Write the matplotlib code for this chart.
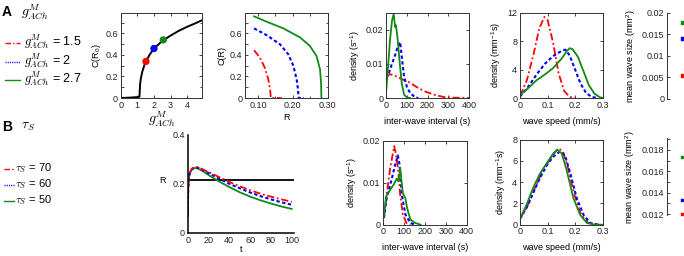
import numpy as np
import matplotlib
matplotlib.use('Agg')
import matplotlib.pyplot as plt
from matplotlib.ticker import FormatStrFormatter, MultipleLocator
from matplotlib.lines import Line2D

plt.rcParams['font.family'] = ['Liberation Sans', 'DejaVu Sans']
plt.rcParams['mathtext.fontset'] = 'cm'
plt.rcParams['font.size'] = 6.5

RED = '#ff0000'
BLUE = '#0000ff'
GREEN = '#138a13'

# ---------------- data: row A ----------------
g_ach = [0, 0.5, 1.0, 1.13, 1.15, 1.17, 1.2, 1.25, 1.3, 1.4, 1.5, 1.75, 2.0, 2.5, 3.0, 3.5, 4.0, 4.5, 4.92]
c_r0 = [0, 0.003, 0.008, 0.012, 0.08, 0.13, 0.17, 0.21, 0.245, 0.295, 0.335, 0.405, 0.46, 0.53, 0.58, 0.625, 0.662, 0.695, 0.725]
g_pts = [1.52, 2.0, 2.56]
c_pts = [0.34, 0.46, 0.54]

r_green = [0.089, 0.125, 0.173, 0.221, 0.249, 0.268, 0.278, 0.281, 0.282]
cr_green = [0.759, 0.709, 0.647, 0.5625, 0.484, 0.39, 0.266, 0.14, 0.0]
r_blue = [0.089, 0.125, 0.163, 0.187, 0.202, 0.211, 0.215, 0.217, 0.232]
cr_blue = [0.647, 0.584, 0.5, 0.406, 0.297, 0.172, 0.078, 0.0, 0.0]
r_red = [0.089, 0.106, 0.12, 0.13, 0.135, 0.137, 0.168]
cr_red = [0.444, 0.375, 0.28, 0.17, 0.078, 0.0, 0.0]

iwi_g_x = [0, 10, 19, 29, 37, 44, 48, 55, 65, 76, 87, 100, 116]
iwi_g_y = [0.0014, 0.0092, 0.0169, 0.0227, 0.0246, 0.0208, 0.0213, 0.0179, 0.0111, 0.0043, 0.001, 0.0002, 0.0]
iwi_b_x = [0, 11, 27, 44, 60, 68, 76, 87, 100, 116, 140, 156]
iwi_b_y = [0.0058, 0.0068, 0.0097, 0.0126, 0.0155, 0.0164, 0.0121, 0.0063, 0.0034, 0.0015, 0.0002, 0.0]
iwi_r_x = [0, 19, 52, 84, 116, 148, 189, 229, 277, 326, 400]
iwi_r_y = [0.0063, 0.007, 0.0063, 0.0053, 0.0045, 0.0032, 0.0019, 0.001, 0.0003, 0.0001, 0.0]

sp_g_x = [0, 0.03, 0.06, 0.09, 0.12, 0.15, 0.17, 0.18, 0.19, 0.21, 0.23, 0.25, 0.27, 0.29, 0.3]
sp_g_y = [0.4, 1.4, 2.5, 3.3, 4.2, 5.5, 6.6, 7.0, 6.9, 5.8, 3.8, 1.8, 0.6, 0.1, 0.0]
sp_b_x = [0, 0.03, 0.06, 0.09, 0.12, 0.15, 0.165, 0.18, 0.2, 0.22, 0.24, 0.26, 0.28]
sp_b_y = [0.2, 1.6, 3.3, 4.8, 5.9, 6.6, 6.8, 6.0, 4.0, 2.0, 0.7, 0.15, 0.0]
sp_r_x = [0, 0.025, 0.05, 0.07, 0.088, 0.1, 0.12, 0.14, 0.16, 0.18, 0.2]
sp_r_y = [0.3, 2.5, 6.3, 9.8, 11.4, 11.0, 7.8, 3.5, 1.0, 0.15, 0.0]

size_a = [0.00544, 0.01405, 0.0178]   # red, blue, green

# ---------------- data: row B ----------------
t_vals = [0, 0.5, 1, 2, 4, 7, 10, 15, 20, 30, 40, 50, 60, 70, 80, 90, 100]
R_red = [0.068, 0.18, 0.22, 0.245, 0.262, 0.27, 0.268, 0.258, 0.248, 0.228, 0.208, 0.19, 0.174, 0.16, 0.148, 0.137, 0.127]
R_blue = [0.068, 0.18, 0.22, 0.244, 0.26, 0.268, 0.265, 0.255, 0.244, 0.222, 0.2, 0.182, 0.165, 0.15, 0.137, 0.125, 0.115]
R_green = [0.068, 0.18, 0.22, 0.243, 0.258, 0.265, 0.262, 0.25, 0.236, 0.21, 0.187, 0.166, 0.148, 0.133, 0.12, 0.108, 0.098]
R_thresh = 0.216

iwiB_r_x = [3, 16, 33, 46, 52, 60, 70, 81, 94, 111, 130]
iwiB_r_y = [0.0016, 0.0071, 0.0135, 0.017, 0.0187, 0.017, 0.0135, 0.0071, 0.0024, 0.0004, 0.0]
iwiB_b_x = [3, 16, 41, 57, 70, 78, 89, 106, 130, 154]
iwiB_b_y = [0.0016, 0.0063, 0.011, 0.0143, 0.0165, 0.0143, 0.0071, 0.0024, 0.0004, 0.0]
iwiB_g_x = [3, 13, 33, 49, 65, 73, 81, 86, 94, 106, 114, 130, 154, 179]
iwiB_g_y = [0.002, 0.0067, 0.0083, 0.0095, 0.011, 0.0103, 0.0135, 0.011, 0.0075, 0.0063, 0.004, 0.0012, 0.0004, 0.0]

spB_g_x = [0, 0.024, 0.048, 0.072, 0.097, 0.12, 0.135, 0.151, 0.169, 0.193, 0.218, 0.242, 0.27, 0.3]
spB_g_y = [0.57, 1.9, 3.5, 4.8, 5.8, 6.7, 7.05, 6.7, 5.1, 2.5, 0.9, 0.16, 0.0, 0.0]
spB_b_x = [0, 0.024, 0.048, 0.072, 0.097, 0.12, 0.145, 0.163, 0.181, 0.205, 0.23, 0.254, 0.285]
spB_b_y = [0.57, 1.6, 3.0, 4.4, 5.6, 6.4, 6.9, 6.5, 4.9, 2.5, 0.9, 0.16, 0.0]
spB_r_x = [0, 0.024, 0.048, 0.072, 0.097, 0.12, 0.139, 0.155, 0.172, 0.196, 0.22, 0.245, 0.275]
spB_r_y = [0.57, 1.6, 3.1, 4.5, 5.7, 6.6, 7.2, 6.9, 5.5, 2.9, 1.0, 0.2, 0.0]

size_b = [0.012, 0.01331, 0.01734]   # red, blue, green

legend_a = ['1.5', '2', '2.7']
legend_b = ['70', '60', '50']

# ---------------- styles ----------------
RED_LS = (0, (4, 1.5, 1, 1.5))
BLUE_LS = (0, (1.6, 1.2))
LW = 1.3

fig = plt.figure(figsize=(6.84, 2.56), dpi=100)


def px_axes(x0, x1, y0, y1):
    return fig.add_axes([x0 / 684, 1 - y1 / 256, (x1 - x0) / 684, (y1 - y0) / 256])


def style_box(ax):
    for s in ax.spines.values():
        s.set_linewidth(0.7)
        s.set_color('#333333')
    ax.tick_params(direction='in', length=2.5, width=0.6, pad=2, top=True, right=True,
                   labelsize=6.5, colors='#222222')
    ax.tick_params(which='minor', direction='in', length=1.8, width=0.5, top=True, right=True)


# ---- A1 ----
ax = px_axes(120.7, 202.5, 13, 98)
ax.plot(g_ach, c_r0, color='black', lw=1.4)
ax.scatter(g_pts, c_pts, color=[RED, BLUE, GREEN], s=18, zorder=3)
ax.set_xlim(0, 4.92)
ax.set_ylim(0, 0.79)
ax.set_xticks([0, 1, 2, 3, 4])
ax.set_yticks([0, 0.2, 0.4, 0.6])
ax.yaxis.set_minor_locator(MultipleLocator(0.1))
ax.yaxis.set_major_formatter(FormatStrFormatter('%g'))
ax.set_ylabel(r'C(R$_\mathregular{0}$)', fontsize=6.5, labelpad=2)
ax.set_xlabel(r'$g^M_{ACh}$', fontsize=10, labelpad=0)
style_box(ax)

# ---- A2 ----
ax = px_axes(245, 327.7, 13, 98)
ax.plot(r_green, cr_green, color=GREEN, lw=LW)
ax.plot(r_blue, cr_blue, color=BLUE, lw=LW + 0.2, linestyle=BLUE_LS)
ax.plot(r_red, cr_red, color=RED, lw=LW, linestyle=RED_LS)
ax.set_xlim(0.063, 0.30)
ax.set_ylim(0, 0.79)
ax.set_xticks([0.10, 0.20, 0.30])
ax.xaxis.set_major_formatter(FormatStrFormatter('%.2f'))
ax.xaxis.set_minor_locator(MultipleLocator(0.05))
ax.set_yticks([0, 0.2, 0.4, 0.6])
ax.yaxis.set_minor_locator(MultipleLocator(0.1))
ax.yaxis.set_major_formatter(FormatStrFormatter('%g'))
ax.set_ylabel('C(R)', fontsize=6.5, labelpad=2)
ax.set_xlabel('R', fontsize=6.5, labelpad=2)
style_box(ax)

# ---- A3 ----
ax = px_axes(386, 469, 12.7, 98)
ax.plot(iwi_r_x, iwi_r_y, color=RED, lw=LW, linestyle=RED_LS)
ax.plot(iwi_b_x, iwi_b_y, color=BLUE, lw=LW + 0.2, linestyle=BLUE_LS)
ax.plot(iwi_g_x, iwi_g_y, color=GREEN, lw=LW)
ax.set_xlim(0, 400)
ax.set_ylim(0, 0.025)
ax.set_xticks([0, 100, 200, 300, 400])
ax.set_yticks([0, 0.01, 0.02])
ax.yaxis.set_major_formatter(FormatStrFormatter('%g'))
ax.set_ylabel(r'density (s$^{\mathregular{-1}}$)', fontsize=6.5, labelpad=3)
ax.set_xlabel('inter-wave interval (s)', fontsize=6.5, labelpad=5)
style_box(ax)

# ---- A4 ----
ax = px_axes(520, 602.7, 12.7, 98)
ax.plot(sp_r_x, sp_r_y, color=RED, lw=LW, linestyle=RED_LS)
ax.plot(sp_b_x, sp_b_y, color=BLUE, lw=LW + 0.2, linestyle=BLUE_LS)
ax.plot(sp_g_x, sp_g_y, color=GREEN, lw=LW)
ax.set_xlim(0, 0.3)
ax.set_ylim(0, 12)
ax.set_xticks([0, 0.1, 0.2, 0.3])
ax.xaxis.set_major_formatter(FormatStrFormatter('%g'))
ax.set_yticks([0, 4, 8, 12])
ax.set_ylabel(r'density (mm$^{\mathregular{-1}}$s)', fontsize=6.5, labelpad=3)
ax.set_xlabel('wave speed (mm/s)', fontsize=6.5, labelpad=5)
style_box(ax)

# ---- A5 ----
ax = px_axes(667.3, 727.3, 12.7, 98.7)
ax.scatter([1, 1, 1], size_a, color=[RED, BLUE, GREEN], s=4, marker='s', zorder=3)
ax.set_xlim(0, 4)
ax.set_ylim(0, 0.02)
ax.set_yticks([0, 0.005, 0.01, 0.015, 0.02])
ax.yaxis.set_major_formatter(FormatStrFormatter('%g'))
ax.set_xticks([])
for k in ['top', 'right', 'bottom']:
    ax.spines[k].set_visible(False)
ax.spines['left'].set_linewidth(0.7)
ax.spines['left'].set_color('#333333')
ax.tick_params(direction='in', length=2.5, width=0.6, pad=2, labelsize=6.5, colors='#222222')
ax.set_ylabel(r'mean wave size (mm$^{\mathregular{2}}$)', fontsize=6.5, labelpad=3)

# ---- B1 ----
ax = px_axes(187.7, 293.8, 134.7, 233)
ax.axhline(R_thresh, xmin=0, xmax=101 / 102, color='black', lw=1.3)
ax.plot(t_vals, R_green, color=GREEN, lw=LW)
ax.plot(t_vals, R_blue, color=BLUE, lw=LW + 0.2, linestyle=BLUE_LS)
ax.plot(t_vals, R_red, color=RED, lw=LW, linestyle=RED_LS)
ax.set_xlim(0, 102)
ax.set_ylim(0, 0.4)
ax.set_xticks([0, 20, 40, 60, 80, 100])
ax.set_yticks([0, 0.2, 0.4])
ax.yaxis.set_major_formatter(FormatStrFormatter('%g'))
for k in ['top', 'right']:
    ax.spines[k].set_visible(False)
for k in ['left', 'bottom']:
    ax.spines[k].set_linewidth(1.1)
ax.tick_params(length=0, pad=2, labelsize=6.5, colors='#222222')
ax.set_xlabel('t', fontsize=6.5, labelpad=0)
ax.set_ylabel('R', fontsize=6.5, rotation=0, va='center', ha='center')
ax.yaxis.set_label_coords(-0.24, 0.53)

# ---- B3 ----
ax = px_axes(383.3, 466.7, 140.7, 224.7)
ax.plot(iwiB_r_x, iwiB_r_y, color=RED, lw=LW, linestyle=RED_LS)
ax.plot(iwiB_b_x, iwiB_b_y, color=BLUE, lw=LW + 0.2, linestyle=BLUE_LS)
ax.plot(iwiB_g_x, iwiB_g_y, color=GREEN, lw=LW)
ax.set_xlim(0, 400)
ax.set_ylim(0, 0.02)
ax.set_xticks([0, 100, 200, 300, 400])
ax.set_yticks([0, 0.01, 0.02])
ax.yaxis.set_major_formatter(FormatStrFormatter('%g'))
ax.set_ylabel(r'density (s$^{\mathregular{-1}}$)', fontsize=6.5, labelpad=3)
ax.set_xlabel('inter-wave interval (s)', fontsize=6.5, labelpad=5)
style_box(ax)

# ---- B4 ----
ax = px_axes(520, 603, 139.7, 224.7)
ax.plot(spB_r_x, spB_r_y, color=RED, lw=LW, linestyle=RED_LS)
ax.plot(spB_b_x, spB_b_y, color=BLUE, lw=LW + 0.2, linestyle=BLUE_LS)
ax.plot(spB_g_x, spB_g_y, color=GREEN, lw=LW)
ax.set_xlim(0, 0.3)
ax.set_ylim(0, 8)
ax.set_xticks([0, 0.1, 0.2, 0.3])
ax.xaxis.set_major_formatter(FormatStrFormatter('%g'))
ax.set_yticks([0, 2, 4, 6, 8])
ax.set_ylabel(r'density (mm$^{\mathregular{-1}}$s)', fontsize=6.5, labelpad=3)
ax.set_xlabel('wave speed (mm/s)', fontsize=6.5, labelpad=5)
style_box(ax)

# ---- B5 ----
ax = px_axes(667, 727, 138, 215.3)
ax.scatter([1, 1, 1], size_b, color=[RED, BLUE, GREEN], s=4, marker='s', zorder=3, clip_on=False)
ax.set_xlim(0, 4)
ax.set_ylim(0.01188, 0.01912)
ax.set_yticks([0.012, 0.014, 0.016, 0.018])
ax.yaxis.set_minor_locator(MultipleLocator(0.001))
ax.yaxis.set_major_formatter(FormatStrFormatter('%.3f'))
ax.set_xticks([])
for k in ['top', 'right', 'bottom']:
    ax.spines[k].set_visible(False)
ax.spines['left'].set_linewidth(0.7)
ax.spines['left'].set_color('#333333')
ax.tick_params(direction='in', length=2.5, width=0.6, pad=2, labelsize=6.5, colors='#222222')
ax.tick_params(which='minor', direction='in', length=1.8, width=0.5)
ax.set_ylabel(r'mean wave size (mm$^{\mathregular{2}}$)', fontsize=6.5, labelpad=3)

# ---- panel labels & legends ----
fig.text(2 / 684, 1 - 12 / 256, 'A', fontsize=10, fontweight='bold', va='center', ha='left')
fig.text(21 / 684, 1 - 12 / 256, r'$g^M_{ACh}$', fontsize=10, va='center', ha='left')
fig.text(2 / 684, 1 - 127 / 256, 'B', fontsize=10, fontweight='bold', va='center', ha='left')
fig.text(21 / 684, 1 - 126 / 256, r'$\tau_S$', fontsize=10, va='center', ha='left')

legA_styles = [(RED, RED_LS, 43), (BLUE, (0, (0.8, 0.8)), 62), (GREEN, '-', 80)]
for (col, ls, y), val in zip(legA_styles, legend_a):
    fig.add_artist(Line2D([5 / 684, 20 / 684], [1 - y / 256, 1 - y / 256], color=col,
                          lw=1.0, linestyle=ls))
    fig.text(24 / 684, 1 - (y - 1) / 256, r'$g^M_{ACh}$ = ' + val, fontsize=9,
             va='center', ha='left')

legB_styles = [(RED, RED_LS, 169), (BLUE, (0, (0.8, 0.8)), 185), (GREEN, '-', 201)]
for (col, ls, y), val in zip(legB_styles, legend_b):
    fig.add_artist(Line2D([4 / 684, 14 / 684], [1 - y / 256, 1 - y / 256], color=col,
                          lw=1.0, linestyle=ls))
    fig.text(15 / 684, 1 - (y - 0.5) / 256, r'$\tau_S$ = ' + val, fontsize=8,
             va='center', ha='left')

fig.savefig('out.png', dpi=100)
